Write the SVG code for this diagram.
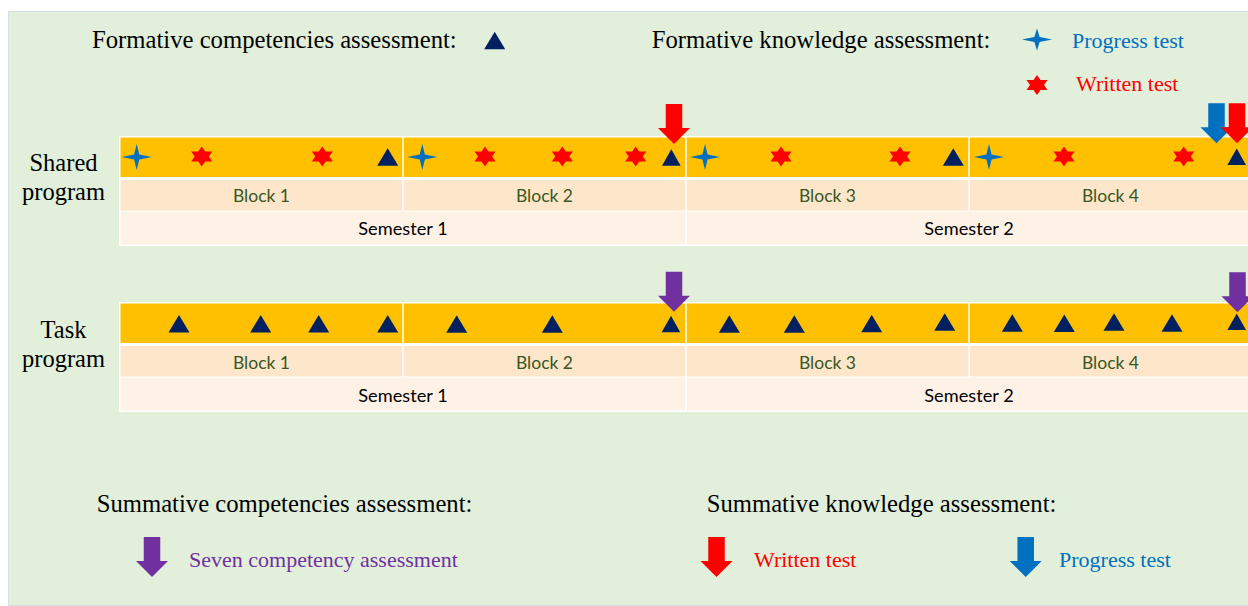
<svg xmlns="http://www.w3.org/2000/svg" xmlns:xlink="http://www.w3.org/1999/xlink" width="1248" height="606" viewBox="0 0 1248 606">
<style>
.head{font-family:"Liberation Serif","Times New Roman",serif;font-size:24.7px;fill:#000}
.lbl{font-family:"Liberation Serif","Times New Roman",serif;font-size:22px}
.side{font-family:"Liberation Serif","Times New Roman",serif;font-size:24.5px;fill:#000;text-anchor:middle}
.blk{font-family:Lato,"Open Sans",sans-serif;font-size:17.5px;fill:#385723;text-anchor:middle}
.sem{font-family:Lato,"Open Sans",sans-serif;font-size:18.2px;fill:#000;text-anchor:middle}
.org{fill:#ffc000}
.brow{fill:#fde6ca}
.srow{fill:#fef2e6}
.tri{fill:#002060}
.rs{fill:#ff0000}
.bs{fill:#0070c0}
</style>
<defs>
<path id="arrow" d="M-8.25,0 H8.25 V24 H16 L0,40 L-16,24 H-8.25 Z"/>
<polygon id="tri" points="-10.5,0 10.5,0 0,-17.5"/>
<polygon id="tris" points="-9.3,0 9.3,0 0,-16.5"/>
<polygon id="star6" points="0,-10 3.5,-5 10.5,-5 7,0 10.5,5 3.5,5 0,10 -3.5,5 -10.5,5 -7,0 -10.5,-5 -3.5,-5"/>
<path id="star4" d="M0,-13 L2.6,-2.6 L15,0 L2.6,2.6 L0,13 L-2.6,2.6 L-15,0 L-2.6,-2.6 Z"/>
<path id="star4l" d="M0,-11 L2.6,-2.4 L15,0 L2.6,2.4 L0,11 L-2.6,2.4 L-15,0 L-2.6,-2.4 Z"/>
</defs>
<rect id="background" x="8.5" y="11.5" width="1245" height="594" fill="#e2efda" stroke="#d6e0ea" stroke-width="1"/>

<g id="legend-top">
<text class="head" x="92" y="48.3">Formative competencies assessment:</text>
<use href="#tri" class="tri" x="494.7" y="49.3"/>
<text class="head" x="651.7" y="48.3">Formative knowledge assessment:</text>
<use href="#star4l" class="bs" x="1037" y="39.5"/>
<text class="lbl" x="1072" y="47.7" fill="#0070c0">Progress test</text>
<use href="#star6" class="rs" x="1037" y="85"/>
<text class="lbl" x="1076" y="90.7" fill="#ff0000">Written test</text>
</g>

<g id="shared-program">
<text class="side" x="63.5" y="171">Shared</text>
<text class="side" x="63.5" y="200">program</text>
<rect x="119" y="136" width="1135" height="110" fill="#ffffff"/>
<rect class="org" x="120.5" y="137.5" width="281.75" height="39.5"/>
<rect class="org" x="403.75" y="137.5" width="281.5" height="39.5"/>
<rect class="org" x="686.75" y="137.5" width="281.5" height="39.5"/>
<rect class="org" x="969.75" y="137.5" width="282" height="39.5"/>
<rect class="brow" x="120.5" y="180" width="281.75" height="30.5"/>
<rect class="brow" x="403.75" y="180" width="281.5" height="30.5"/>
<rect class="brow" x="686.75" y="180" width="281.5" height="30.5"/>
<rect class="brow" x="969.75" y="180" width="282" height="30.5"/>
<rect class="srow" x="120.5" y="211.5" width="564.75" height="33"/>
<rect class="srow" x="686.75" y="211.5" width="565" height="33"/>
<text class="blk" x="261.5" y="202">Block 1</text>
<text class="blk" x="544.5" y="202">Block 2</text>
<text class="blk" x="827.5" y="202">Block 3</text>
<text class="blk" x="1110.5" y="202">Block 4</text>
<text class="sem" x="403" y="235">Semester 1</text>
<text class="sem" x="969" y="235">Semester 2</text>
<use href="#star4" class="bs" x="136.7" y="157"/>
<use href="#star4" class="bs" x="422.3" y="157"/>
<use href="#star4" class="bs" x="705" y="157"/>
<use href="#star4" class="bs" x="989" y="157"/>
<use href="#star6" class="rs" x="201.7" y="156.5"/>
<use href="#star6" class="rs" x="322.3" y="156.5"/>
<use href="#star6" class="rs" x="485" y="156.5"/>
<use href="#star6" class="rs" x="562.3" y="156.5"/>
<use href="#star6" class="rs" x="635.7" y="156.5"/>
<use href="#star6" class="rs" x="781" y="156.5"/>
<use href="#star6" class="rs" x="900" y="156.5"/>
<use href="#star6" class="rs" x="1064" y="156.5"/>
<use href="#star6" class="rs" x="1183.7" y="156.5"/>
<use href="#tri" class="tri" x="387.7" y="165.7"/>
<use href="#tris" class="tri" x="671.3" y="165.7"/>
<use href="#tri" class="tri" x="953.3" y="165.7"/>
<use href="#tris" class="tri" x="1236.7" y="165"/>
</g>

<g id="task-program">
<text class="side" x="63.5" y="337.7">Task</text>
<text class="side" x="63.5" y="367">program</text>
<rect x="119" y="302" width="1135" height="110" fill="#ffffff"/>
<rect class="org" x="120.5" y="303.5" width="281.75" height="39.5"/>
<rect class="org" x="403.75" y="303.5" width="281.5" height="39.5"/>
<rect class="org" x="686.75" y="303.5" width="281.5" height="39.5"/>
<rect class="org" x="969.75" y="303.5" width="282" height="39.5"/>
<rect class="brow" x="120.5" y="346" width="281.75" height="30.5"/>
<rect class="brow" x="403.75" y="346" width="281.5" height="30.5"/>
<rect class="brow" x="686.75" y="346" width="281.5" height="30.5"/>
<rect class="brow" x="969.75" y="346" width="282" height="30.5"/>
<rect class="srow" x="120.5" y="377.5" width="564.75" height="33"/>
<rect class="srow" x="686.75" y="377.5" width="565" height="33"/>
<text class="blk" x="261.5" y="368.5">Block 1</text>
<text class="blk" x="544.5" y="368.5">Block 2</text>
<text class="blk" x="827.5" y="368.5">Block 3</text>
<text class="blk" x="1110.5" y="368.5">Block 4</text>
<text class="sem" x="403" y="401.5">Semester 1</text>
<text class="sem" x="969" y="401.5">Semester 2</text>
<use href="#tri" class="tri" x="179" y="332.5"/>
<use href="#tri" class="tri" x="260.7" y="332.5"/>
<use href="#tri" class="tri" x="318.7" y="332.5"/>
<use href="#tri" class="tri" x="387.7" y="332.5"/>
<use href="#tri" class="tri" x="456.7" y="332.7"/>
<use href="#tri" class="tri" x="552.3" y="332.7"/>
<use href="#tris" class="tri" x="671" y="332.3"/>
<use href="#tri" class="tri" x="729.3" y="332.7"/>
<use href="#tri" class="tri" x="794.3" y="332.7"/>
<use href="#tri" class="tri" x="871.7" y="332.3"/>
<use href="#tri" class="tri" x="944.7" y="330.7"/>
<use href="#tri" class="tri" x="1012.3" y="331.7"/>
<use href="#tri" class="tri" x="1064.3" y="332"/>
<use href="#tri" class="tri" x="1114" y="330.7"/>
<use href="#tri" class="tri" x="1172" y="331.7"/>
<use href="#tris" class="tri" x="1236.7" y="330"/>
</g>

<g id="connectors">
<use href="#arrow" fill="#ff0000" x="674" y="104"/>
<use href="#arrow" fill="#0070c0" x="1216.5" y="103.3"/>
<use href="#arrow" fill="#ff0000" x="1237" y="103.3"/>
<use href="#arrow" fill="#7030a0" x="674" y="271.7"/>
<use href="#arrow" fill="#7030a0" x="1237.5" y="272.3"/>
</g>

<g id="legend-bottom">
<text class="head" x="96.7" y="511.7">Summative competencies assessment:</text>
<use href="#arrow" fill="#7030a0" x="152" y="537"/>
<text class="lbl" x="189" y="567" fill="#7030a0">Seven competency assessment</text>
<text class="head" x="706.7" y="511.7">Summative knowledge assessment:</text>
<use href="#arrow" fill="#ff0000" x="716.5" y="537"/>
<text class="lbl" x="754" y="567" fill="#ff0000">Written test</text>
<use href="#arrow" fill="#0070c0" x="1025.7" y="537"/>
<text class="lbl" x="1059" y="567" fill="#0070c0">Progress test</text>
</g>
</svg>
